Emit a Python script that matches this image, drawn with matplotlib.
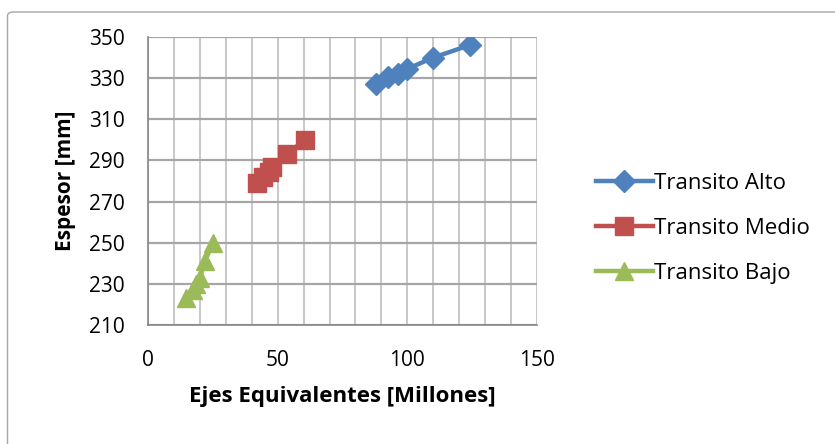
import matplotlib.pyplot as plt
from matplotlib.ticker import MultipleLocator
from matplotlib.patches import FancyBboxPatch

# Datos: ejes equivalentes (millones) vs espesor (mm)
alto_x = [88, 92.5, 96.5, 100, 110, 124]
alto_y = [327, 330.5, 332, 334.5, 340, 346]

medio_x = [42, 44.5, 46.5, 48, 53.5, 60.5]
medio_y = [279, 282, 284.5, 287, 293, 300]

bajo_x = [14.5, 17.5, 18.5, 20, 22, 25]
bajo_y = [223, 227, 230, 233, 241, 250]

y_ticks = [210, 230, 250, 270, 290, 310, 330, 350]
x_ticks = [0, 50, 100, 150]

series = [
    ("Transito Alto", alto_x, alto_y, "#4F81BD", "D", 11),
    ("Transito Medio", medio_x, medio_y, "#C0504D", "s", 12.5),
    ("Transito Bajo", bajo_x, bajo_y, "#9BBB59", "^", 13),
]

plt.rcParams["font.family"] = ["Open Sans", "DejaVu Sans"]

fig = plt.figure(figsize=(8.35, 4.44), dpi=100)
ax = fig.add_axes([148 / 835, 1 - 325 / 444, 389 / 835, 288 / 444])

# marco del gráfico (solo se ven los bordes izquierdo y superior)
fig.patches.append(FancyBboxPatch((0.009, -0.05), 1.05, 1.023,
                                  boxstyle="round,pad=0,rounding_size=0.008",
                                  transform=fig.transFigure, fill=False,
                                  edgecolor="#A6A6A6", lw=1))

for nombre, xs, ys, color, mk, ms in series:
    ax.plot(xs, ys, color=color, lw=3.2, marker=mk, ms=ms,
            markeredgecolor=color, label=nombre, zorder=3)

ax.set_xlim(0, 150)
ax.set_ylim(210, 350)
ax.set_xticks(x_ticks)
ax.set_yticks(y_ticks)
ax.xaxis.set_minor_locator(MultipleLocator(10))

ax.grid(which="both", axis="x", color="#BFBFBF", lw=1.2)
ax.grid(which="major", axis="y", color="#A6A6A6", lw=1.6)
ax.set_axisbelow(True)

for lado in ["top", "right"]:
    ax.spines[lado].set_visible(False)
for lado in ["left", "bottom"]:
    ax.spines[lado].set_color("#868686")
    ax.spines[lado].set_linewidth(1.2)

ax.tick_params(which="both", length=0)
ax.tick_params(axis="x", pad=18, labelsize=15)
ax.tick_params(axis="y", pad=17, labelsize=15)

ax.set_xlabel("Ejes Equivalentes [Millones]", fontsize=16, fontweight="bold",
              labelpad=11)
ax.set_ylabel("Espesor [mm]", fontsize=15, fontweight="bold", labelpad=9)

ax.legend(loc="center left", bbox_to_anchor=(1.1, 0.335), frameon=False,
          fontsize=16, handlelength=2.55, handletextpad=0.05, labelspacing=1.08)

fig.savefig("out.png", dpi=100)
